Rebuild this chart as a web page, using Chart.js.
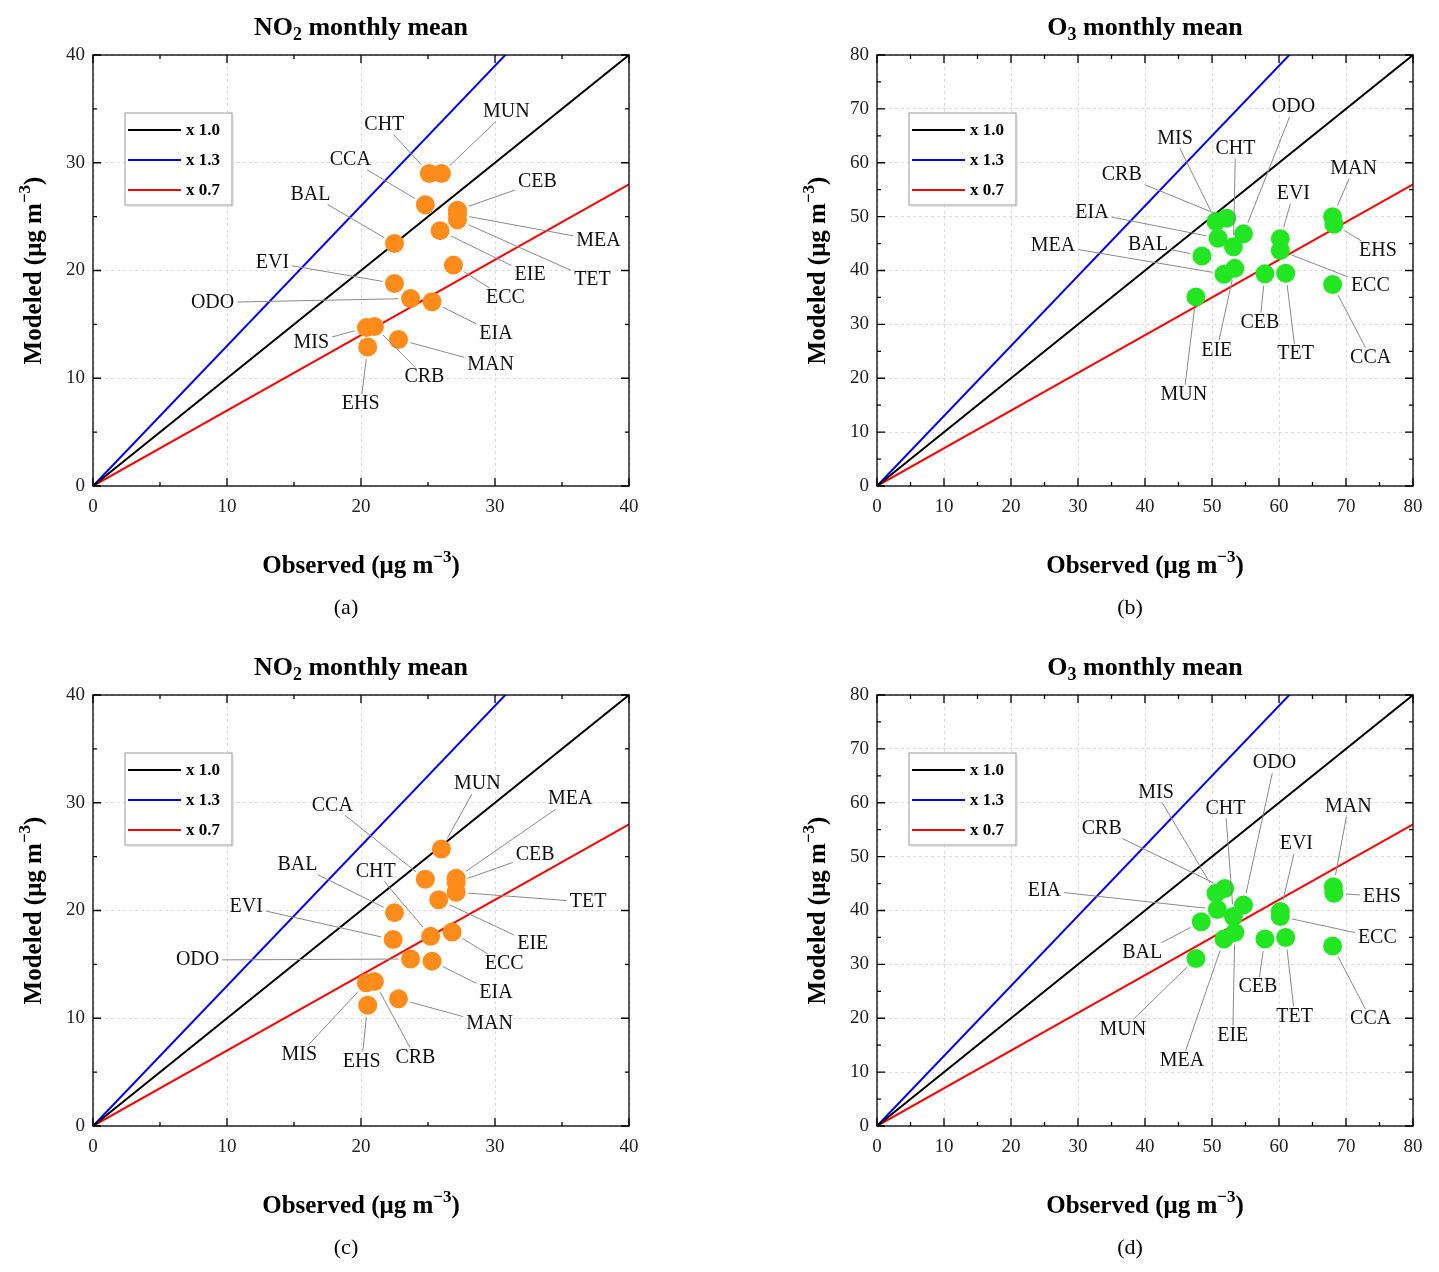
<!DOCTYPE html>
<html><head><meta charset="utf-8">
<script src="https://cdn.jsdelivr.net/npm/chart.js@4.4.1/dist/chart.umd.min.js"></script>
<style>
body{margin:0;background:#fff;overflow:hidden;width:1439px;height:1272px;position:relative}
.p{position:absolute;width:655px;height:640px}
</style></head><body>
<div class="p" style="left:0;top:0"><canvas id="ca"></canvas></div>
<div class="p" style="left:784px;top:0"><canvas id="cb"></canvas></div>
<div class="p" style="left:0;top:640px"><canvas id="cc"></canvas></div>
<div class="p" style="left:784px;top:640px"><canvas id="cd"></canvas></div>
<script>
// ---------- data ----------
const ratioLabels = ['x 1.0','x 1.3','x 0.7'];
const ratios = [1.0, 1.3, 0.7];

const namesA = ['CHT','MUN','CCA','CEB','MEA','TET','EIE','BAL','EVI','ECC','ODO','EIA','MIS','CRB','MAN','EHS'];
const obsA   = [25.1,26.0,24.8,27.2,27.2,27.2,25.9,22.5,22.5,26.9,23.7,25.3,20.4,21.0,22.8,20.5];
const modA   = [29.0,29.0,26.1,25.6,25.2,24.7,23.7,22.5,18.8,20.5,17.4,17.1,14.7,14.8,13.6,12.9];
const offA   = [[-45,-49],[65,-62],[-75,-45],[80,-28],[141,26],[135,60],[90,44],[-84,-49],[-122,-21],[52,33],[-198,4],[64,32],[-55,15],[50,50],[92,25],[-7,57]];

const namesB = ['MIS','CRB','EIA','ODO','CHT','BAL','MEA','EIE','MUN','CEB','TET','EVI','ECC','MAN','EHS','CCA'];
const obsB   = [50.6,52.2,50.9,54.7,53.2,48.5,51.8,53.4,47.6,57.9,61.0,60.2,60.2,68.0,68.2,68.0];
const modB   = [49.1,49.7,46.0,46.8,44.4,42.7,39.3,40.4,35.1,39.4,39.5,45.9,43.7,50.0,48.6,37.4];
const offB   = [[-41,-83],[-105,-43],[-126,-25],[50,-127],[2,-98],[-54,-11],[-171,-29],[-18,82],[-12,98],[-5,49],[10,81],[13,-45],[90,35],[21,-48],[44,27],[38,73]];

const namesC = ['MUN','CCA','MEA','CEB','TET','EIE','BAL','CHT','EVI','ECC','ODO','EIA','MIS','CRB','EHS','MAN'];
const obsC   = [26.0,24.8,27.1,27.1,27.1,25.8,22.5,25.2,22.4,26.8,23.7,25.3,20.4,21.0,20.5,22.8];
const modC   = [25.7,22.9,23.0,22.6,21.7,21.0,19.8,17.6,17.3,18.0,15.5,15.3,13.3,13.4,11.2,11.8];
const offC   = [[36,-65],[-93,-74],[114,-79],[79,-28],[132,10],[94,44],[-97,-48],[-55,-65],[-147,-33],[52,32],[-213,1],[64,32],[-67,72],[41,76],[-6,56],[91,25]];

const namesD = ['MIS','CRB','EIA','ODO','CHT','BAL','MEA','EIE','MUN','CEB','TET','EVI','ECC','MAN','EHS','CCA'];
const obsD   = [50.6,51.9,50.8,54.7,53.2,48.4,51.8,53.4,47.6,57.9,61.0,60.2,60.2,68.1,68.2,68.0];
const modD   = [43.2,44.1,40.2,41.0,38.9,37.9,34.7,35.9,31.1,34.7,35.0,39.8,38.9,44.4,43.2,33.4];
const offD   = [[-60,-101],[-123,-60],[-173,-19],[31,-142],[-8,-108],[-59,31],[-42,122],[-2,103],[-73,71],[-7,48],[9,79],[16,-68],[97,21],[15,-80],[48,3],[38,73]];

// ---------- drawing ----------
const SERIF = '"Liberation Serif","DejaVu Serif",serif';
const lineColors = ['#000000','#0000ff','#ff0000'];

function drawRich(ctx, parts, x, y, size, align){
  // parts: [text, mode] mode: 0 normal,1 sub,2 sup
  let w=0;
  parts.forEach(p=>{ctx.font='bold '+(p[1]?Math.round(size*0.68):size)+'px '+SERIF; w+=ctx.measureText(p[0]).width;});
  let cx = x - w/2;
  parts.forEach(p=>{
    const s = p[1]?Math.round(size*0.68):size;
    ctx.font='bold '+s+'px '+SERIF;
    const dy = p[1]===1 ? size*0.28 : (p[1]===2 ? -size*0.38 : 0);
    ctx.fillText(p[0], cx, y+dy);
    cx += ctx.measureText(p[0]).width;
  });
}

const deco = {
  id:'deco',
  afterDraw(chart, args, o){
    const ctx=chart.ctx, a=chart.chartArea, xs=chart.scales.x, ys=chart.scales.y;
    ctx.save();
    // frame
    ctx.strokeStyle='#000'; ctx.lineWidth=1.3;
    ctx.strokeRect(a.left,a.top,a.right-a.left,a.bottom-a.top);
    // inward ticks
    const step=o.step;
    for(let v=0; v<=o.max+1e-9; v+=step/2){
      const major = Math.abs(v/step-Math.round(v/step))<1e-6;
      const L = major?8:4;
      const px=xs.getPixelForValue(v), py=ys.getPixelForValue(v);
      ctx.beginPath();
      ctx.moveTo(px,a.bottom); ctx.lineTo(px,a.bottom-L);
      ctx.moveTo(px,a.top); ctx.lineTo(px,a.top+L);
      ctx.moveTo(a.left,py); ctx.lineTo(a.left+L,py);
      ctx.moveTo(a.right,py); ctx.lineTo(a.right-L,py);
      ctx.stroke();
    }
    // leader lines + labels
    ctx.font='20px '+SERIF; ctx.textAlign='center'; ctx.textBaseline='middle';
    o.names.forEach((n,i)=>{
      const px=xs.getPixelForValue(o.obs[i]), py=ys.getPixelForValue(o.mod[i]);
      const lx=px+o.offs[i][0], ly=py+o.offs[i][1];
      const hw=ctx.measureText(n).width/2+3, hh=10;
      const dx=lx-px, dy=ly-py;
      // fraction where line enters label rect
      let t=1;
      const tx = Math.abs(dx)>1e-6 ? 1-hw/Math.abs(dx) : -1;
      const ty = Math.abs(dy)>1e-6 ? 1-hh/Math.abs(dy) : -1;
      t = Math.max(tx,ty); if(t<0) t=0;
      const len=Math.hypot(dx,dy), s0=Math.min(12/len,1);
      if(t>s0){
        ctx.strokeStyle='#8a8a8a'; ctx.lineWidth=1;
        ctx.beginPath(); ctx.moveTo(px+dx*s0,py+dy*s0); ctx.lineTo(px+dx*t,py+dy*t); ctx.stroke();
      }
      ctx.fillStyle='#111'; ctx.fillText(n,lx,ly);
    });
    // legend
    const bx=a.left+32, by=a.top+58;
    ctx.fillStyle='#fff'; ctx.strokeStyle='#999'; ctx.lineWidth=1;
    ctx.fillRect(bx,by,107,92); ctx.strokeRect(bx,by,107,92);
    ctx.strokeStyle='#ccc'; ctx.beginPath(); ctx.moveTo(bx+108,by+2); ctx.lineTo(bx+108,by+93); ctx.lineTo(bx+2,by+93); ctx.stroke();
    ratioLabels.forEach((t,i)=>{
      const yy=by+17+i*30;
      ctx.strokeStyle=lineColors[i]; ctx.lineWidth=2;
      ctx.beginPath(); ctx.moveTo(bx+3,yy); ctx.lineTo(bx+56,yy); ctx.stroke();
      ctx.fillStyle='#000'; ctx.font='bold 17px '+SERIF; ctx.textAlign='left';
      ctx.fillText(t,bx+61,yy+1);
    });
    // titles
    ctx.fillStyle='#000'; ctx.textAlign='left'; ctx.textBaseline='middle';
    const cx=(a.left+a.right)/2;
    drawRich(ctx,o.title,cx,28,26);
    drawRich(ctx,[['Observed (μg m',0],['−3',2],[')',0]],cx,567,25);
    ctx.save(); ctx.translate(35,(a.top+a.bottom)/2); ctx.rotate(-Math.PI/2);
    drawRich(ctx,[['Modeled (μg m',0],['−3',2],[')',0]],0,0,25);
    ctx.restore();
    ctx.font='22px '+SERIF; ctx.textAlign='center';
    ctx.fillText(o.tag, cx-15, 608);
    ctx.restore();
  }
};

function make(id, names, obs, mod, offs, max, color, title, tag){
  const lineSets = ratios.map((r,i)=>({
    type:'line', label:ratioLabels[i],
    data:[{x:0,y:0},{x:max,y:max*r}],
    borderColor:lineColors[i], borderWidth:2, pointRadius:0, fill:false
  }));
  const pts = {type:'scatter', label:'stations',
    data: obs.map((v,i)=>({x:v,y:mod[i]})),
    backgroundColor:color, borderWidth:0, pointRadius:9.5, pointHoverRadius:9.5};
  const axis = (isX)=>({
    type:'linear', min:0, max:max,
    ticks:{stepSize:10, color:'#222', font:{family:SERIF,size:19}, padding:isX?10:8},
    grid:{color:'#dcdcdc', lineWidth:1, drawTicks:false},
    border:{display:false, dash:[3,3]},
    afterFit:isX?(s=>{s.height=154;}):(s=>{s.width=93;})
  });
  new Chart(document.getElementById(id),{
    data:{datasets:[pts, ...lineSets]},
    options:{
      responsive:true, maintainAspectRatio:false, animation:false,
      layout:{padding:{top:55,right:26,left:0,bottom:0}},
      scales:{x:axis(true), y:axis(false)},
      plugins:{legend:{display:false}, tooltip:{enabled:false},
        deco:{names,obs,mod,offs,max,step:10,title,tag}}
    },
    plugins:[deco]
  });
}

const tNO2=[['NO',0],['2',1],[' monthly mean',0]];
const tO3=[['O',0],['3',1],[' monthly mean',0]];
make('ca',namesA,obsA,modA,offA,40,'#ff8c1a',tNO2,'(a)');
make('cb',namesB,obsB,modB,offB,80,'#22e622',tO3,'(b)');
make('cc',namesC,obsC,modC,offC,40,'#ff8c1a',tNO2,'(c)');
make('cd',namesD,obsD,modD,offD,80,'#22e622',tO3,'(d)');
</script></body></html>
